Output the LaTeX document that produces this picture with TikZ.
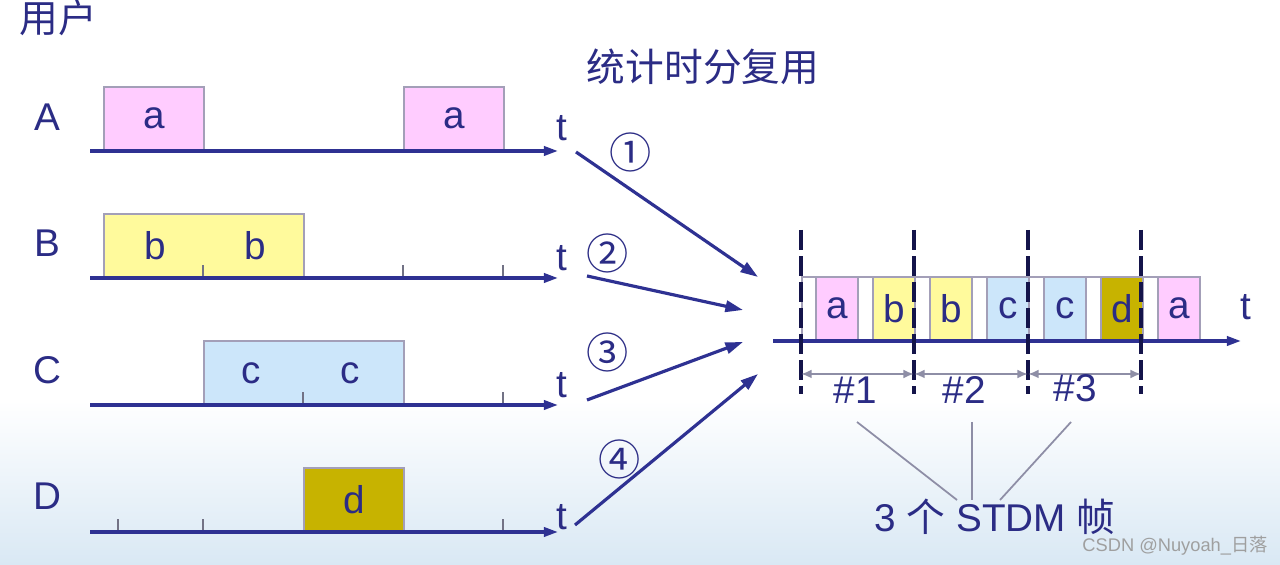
\documentclass[tikz,border=0pt]{standalone}
\usepackage{fontspec}
\setmainfont{Liberation Sans}
\newfontfamily\cjk{Noto Sans CJK SC}
\usepackage{tikz}
\usetikzlibrary{arrows.meta,positioning,calc}
\definecolor{muxNavy}{HTML}{2E3192}
\definecolor{muxInk}{HTML}{2B2C85}
\definecolor{muxDash}{HTML}{14144A}
\definecolor{muxGray}{HTML}{8E8EA6}
\definecolor{muxEdge}{HTML}{A39FB8}
\definecolor{slotA}{HTML}{FFCCFF}
\definecolor{slotB}{HTML}{FFFA9C}
\definecolor{slotC}{HTML}{CCE6FA}
\definecolor{slotD}{HTML}{C7B300}
\definecolor{bgBlue}{HTML}{D9E8F4}
\tikzset{
  lbl/.style={inner sep=0pt, text=muxInk, font=\fontsize{11}{13}\selectfont},
  num/.style={inner sep=0pt, text=muxInk, font=\fontsize{12}{14}\selectfont\cjk},
  slot/.style={rectangle, draw=muxEdge, line width=0.5pt, anchor=south west, minimum width=1cm, minimum height=0.63cm, inner sep=0pt, text=muxInk, font=\fontsize{11}{13}\selectfont},
  cell/.style={slot, minimum width=0.42cm},
  axis/.style={-{Triangle[length=4pt,width=2.6pt]}, line width=0.9pt, draw=muxNavy},
  feed/.style={-{Triangle[length=5pt,width=3.2pt]}, line width=0.9pt, draw=muxNavy},
  tick/.style={draw=muxGray!80!black, line width=0.4pt},
  bound/.style={draw=muxDash, line width=1.1pt, dash pattern=on 0.2cm off 0.06cm},
  span/.style={{Latex[length=3pt,width=2.5pt]}-{Latex[length=3pt,width=2.5pt]}, draw=muxGray, line width=0.6pt},
  lead/.style={draw=muxGray, line width=0.5pt}
}
\begin{document}
\begin{tikzpicture}[x=0.01cm, y=-0.01cm]
\useasboundingbox (0,0) rectangle (1280,565);
\fill[white] (0,0) rectangle (1280,400);
\shade[top color=white, bottom color=bgBlue] (0,400) rectangle (1280,565);
\node[lbl] (users) at (58,18) {\cjk 用户};
\node[lbl] (stdm) at (703,67) {\cjk 统计时分复用};
\node[lbl] (labA) at (47,117) {A};
\node[lbl] (labB) at (47,243) {B};
\node[lbl] (labC) at (47,370) {C};
\node[lbl] (labD) at (47,496) {D};
\coordinate (A0) at (90,151); \coordinate (A1) at (558,151);
\coordinate (B0) at (90,278); \coordinate (B1) at (558,278);
\coordinate (C0) at (90,405); \coordinate (C1) at (558,405);
\coordinate (D0) at (90,532); \coordinate (D1) at (558,532);
\node[slot, fill=slotA] (a1) at (103,151) {a};
\node[slot, fill=slotA] (a2) at (403,151) {a};
\node[slot, fill=slotB, minimum width=2cm] (bb) at (103,278) {};
\node[lbl] (b1) at (155,246) {b};
\node[lbl] (b2) at (255,246) {b};
\node[slot, fill=slotC, minimum width=2cm] (cc) at (203,405) {};
\node[lbl] (c1) at (251,373) {c};
\node[lbl] (c2) at (350,373) {c};
\node[slot, fill=slotD] (d1) at (303,532) {d};
\foreach \x in {203,403,503} \draw[tick] (\x,278) -- ++(0,-13);
\foreach \x in {303,503} \draw[tick] (\x,405) -- ++(0,-13);
\foreach \x in {118,203,503} \draw[tick] (\x,532) -- ++(0,-13);
\draw[axis] (A0) -- (A1);
\draw[axis] (B0) -- (B1);
\draw[axis] (C0) -- (C1);
\draw[axis] (D0) -- (D1);
\node[lbl] (tA) at (562,128) {t};
\node[lbl] (tB) at (562,258) {t};
\node[lbl] (tC) at (562,385) {t};
\node[lbl] (tD) at (562,517) {t};
\coordinate (fa0) at (576,152); \coordinate (fa1) at (758,277);
\coordinate (fb0) at (587,276); \coordinate (fb1) at (743,310);
\coordinate (fc0) at (587,400); \coordinate (fc1) at (743,342);
\coordinate (fd0) at (575,525); \coordinate (fd1) at (758,374);
\draw[feed] (fa0) -- (fa1);
\draw[feed] (fb0) -- (fb1);
\draw[feed] (fc0) -- (fc1);
\draw[feed] (fd0) -- (fd1);
\node[num] (n1) at (631,152) {①};
\node[num] (n2) at (608,253) {②};
\node[num] (n3) at (608,352) {③};
\node[num] (n4) at (620,459) {④};
\node[slot, fill=white, minimum width=3.98cm] (frame) at (801,341) {};
\node[cell, fill=slotA] (f1) at (815,341) {a};
\node[cell, fill=slotB] (f2) at (872,341) {b};
\node[cell, fill=slotB] (f3) at (929,341) {b};
\node[cell, fill=slotC] (f4) at (986,341) {c};
\node[cell, fill=slotC] (f5) at (1043,341) {c};
\node[cell, fill=slotD] (f6) at (1100,341) {d};
\node[cell, fill=slotA] (f7) at (1157,341) {a};
\coordinate (M0) at (773,341); \coordinate (M1) at (1241,341);
\draw[axis] (M0) -- (M1);
\node[lbl] (tM) at (1246,307) {t};
\coordinate (k1t) at (801,230); \coordinate (k1b) at (801,394);
\coordinate (k2t) at (914,230); \coordinate (k2b) at (914,394);
\coordinate (k3t) at (1028,230); \coordinate (k3b) at (1028,394);
\coordinate (k4t) at (1141,230); \coordinate (k4b) at (1141,394);
\draw[bound] (k1t) -- (k1b);
\draw[bound] (k2t) -- (k2b);
\draw[bound] (k3t) -- (k3b);
\draw[bound] (k4t) -- (k4b);
\coordinate (s1) at (801,374); \coordinate (s2) at (914,374);
\coordinate (s3) at (1028,374); \coordinate (s4) at (1141,374);
\draw[span] (s1) -- (s2);
\draw[span] (s2) -- (s3);
\draw[span] (s3) -- (s4);
\node[lbl] (h1) at (855,390) {\#1};
\node[lbl] (h2) at (964,390) {\#2};
\node[lbl] (h3) at (1075,388) {\#3};
\node[lbl] (count) at (995,517) {3 {\cjk 个} STDM {\cjk 帧}};
\coordinate (l1) at (857,422); \coordinate (e1) at (957,500);
\coordinate (l2) at (972,422); \coordinate (e2) at (972,500);
\coordinate (l3) at (1071,422); \coordinate (e3) at (1000,500);
\draw[lead] (l1) -- (e1);
\draw[lead] (l2) -- (e2);
\draw[lead] (l3) -- (e3);
\node[inner sep=0pt, text=gray!75, font=\fontsize{5.2}{6}\selectfont] (mark) at (1175,546) {CSDN @Nuyoah\_{\cjk 日落}};
\end{tikzpicture}
\end{document}
